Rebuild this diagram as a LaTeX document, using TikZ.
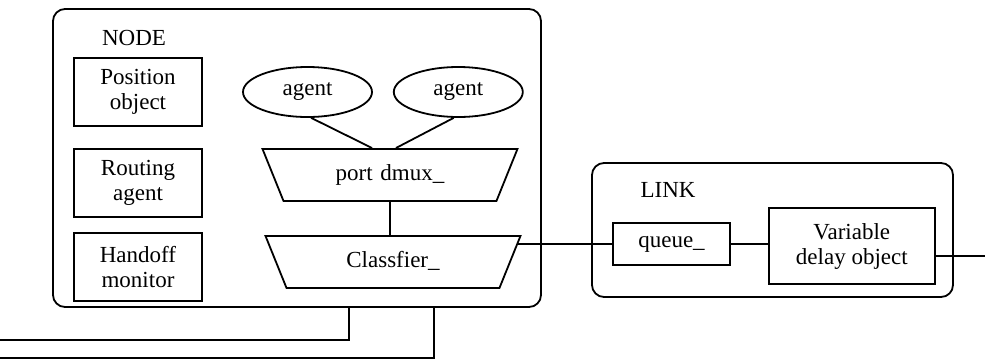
\documentclass[tikz,border=0pt]{standalone}
\usepackage{fontspec}
\setmainfont{Liberation Serif}
\usetikzlibrary{shapes.geometric,positioning}

\begin{document}
\begin{tikzpicture}[x=0.5pt, y=-0.5pt, line width=0.9pt,
    holder/.style={rectangle, draw, rounded corners=6pt, inner sep=0pt},
    objbox/.style={rectangle, draw, minimum width=64pt, minimum height=34pt,
        inner sep=2pt, align=center, font=\fontsize{11.5}{12.5}\selectfont},
    agentnode/.style={ellipse, draw, minimum width=64.5pt, minimum height=25pt,
        inner sep=0pt, font=\fontsize{11.5}{12.5}\selectfont},
    mux/.style={trapezium, draw, shape border rotate=180, trapezium angle=68,
        inner sep=0pt, text width=106.5pt, align=center,
        text height=16pt, text depth=10pt, font=\fontsize{11.5}{12.5}\selectfont},
    title/.style={font=\fontsize{11.5}{12.5}\selectfont, inner sep=0pt}
]
    \useasboundingbox (0,0) rectangle (985,360);

    \node[holder, minimum width=244pt, minimum height=149pt] (nodebox) at (297,158) {};
    \node[title] (nodelbl) at (134,38) {NODE};

    \node[objbox] (pos) at (138,92) {Position\\object};
    \node[objbox, below=10.5pt of pos] (rout) {Routing\\agent};
    \node[objbox, below=7pt of rout] (hand) {Handoff\\monitor};

    \node[agentnode] (ag1) at (307.5,92) {agent};
    \node[agentnode, right=10pt of ag1] (ag2) {agent};

    \node[mux, anchor=north] (pdmux) at (390,148) {port dmux\_};
    \node[mux, anchor=north] (clsf) at (393,235) {Classfier\_};

    \draw (ag1.-82) -- ([xshift=-9pt]pdmux.north);
    \draw (ag2.-100) -- ([xshift=3pt]pdmux.north);
    \draw (pdmux.south) -- (pdmux.south |- clsf.north);

    \node[holder, minimum width=180.5pt, minimum height=67pt] (linkbox) at (772.5,230) {};
    \node[title] (linklbl) at (668,190) {LINK};

    \node[objbox, minimum width=58.5pt, minimum height=21pt] (queue) at (671.5,244) {queue\_};
    \node[objbox, minimum width=83pt, minimum height=38pt, right=18.5pt of queue,
        yshift=-1pt] (vdo) {Variable\\delay object};

    \coordinate (clsfport) at (517,245);
    \coordinate (linkout) at (985,256);
    \draw (clsfport |- queue.west) -- (queue.west);
    \draw (queue.east) -- (queue.east -| vdo.west);
    \draw (vdo.east |- linkout) -- (linkout);

    \coordinate (tapA) at (349,307);
    \coordinate (tapB) at (434,307);
    \coordinate (endA) at (0,340);
    \coordinate (endB) at (0,358);
    \draw (tapA) |- (endA);
    \draw (tapB) |- (endB);
\end{tikzpicture}
\end{document}
